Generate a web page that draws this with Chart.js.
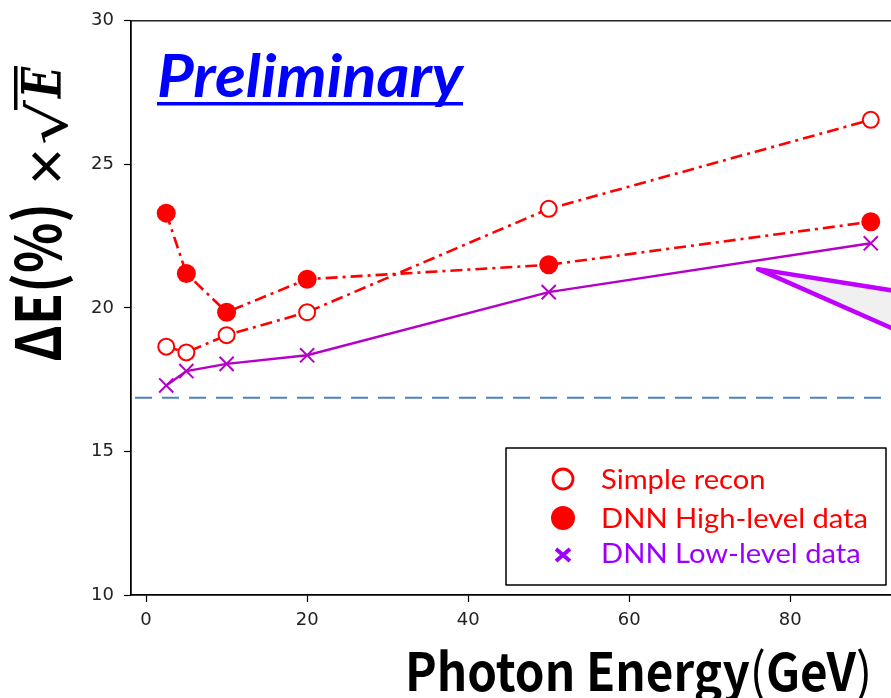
<!DOCTYPE html>
<html>
<head>
<meta charset="utf-8">
<script src="https://cdn.jsdelivr.net/npm/chart.js@4"></script>
<style>
html,body{margin:0;padding:0;background:#fff;overflow:hidden;width:891px;height:698px;}
#wrap{position:absolute;left:0;top:0;width:920px;height:698px;}
</style>
</head>
<body>
<div id="wrap"><canvas id="c" width="920" height="698"></canvas></div>
<script>
// ---- data ----
const energies = [2.5, 5, 10, 20, 50, 90];
const simpleRecon = [18.65, 18.45, 19.05, 19.85, 23.45, 26.55];
const dnnHigh = [23.3, 21.2, 19.85, 21.0, 21.5, 23.0];
const dnnLow = [17.3, 17.8, 18.05, 18.35, 20.55, 22.25];
const seriesLabels = ['Simple recon', 'DNN High-level data', 'DNN Low-level data'];
const baselineValue = 16.87;
const xLimits = [-1.875, 94.375];
const yLimits = [10, 30];
const xTickStep = 20;
const yTickStep = 5;
const calloutTip = {x: 76, y: 21.35};

const RED = '#ff0000';
const PURPLE = '#b400c8';
const LEG_PURPLE = '#9b00ff';

function pts(ys){ return energies.map((e,i)=>({x:e,y:ys[i]})); }

// draw text horizontally fitted to a given length
function fitText(ctx, text, font, x, y, len){
  ctx.font = font;
  const w = ctx.measureText(text).width;
  ctx.save();
  ctx.translate(x, y);
  ctx.scale(len / w, 1);
  ctx.fillText(text, 0, 0);
  ctx.restore();
}
// several runs of text with different fonts, fitted together
function fitRuns(ctx, runs, x, y, len){
  let total = 0;
  const ws = runs.map(r => { ctx.font = r[1]; const w = ctx.measureText(r[0]).width; total += w; return w; });
  ctx.save();
  ctx.translate(x, y);
  ctx.scale(len / total, 1);
  let cx = 0;
  runs.forEach((r, i) => { ctx.font = r[1]; ctx.fillText(r[0], cx, 0); cx += ws[i]; });
  ctx.restore();
}

const decor = {
  id: 'decor',
  beforeDatasetsDraw(chart){
    const ctx = chart.ctx, a = chart.chartArea;
    const ys = chart.scales.y;
    const yb = ys.getPixelForValue(baselineValue);
    ctx.save();
    ctx.strokeStyle = '#4f81bd';
    ctx.lineWidth = 2;
    ctx.setLineDash([17, 10]);
    ctx.beginPath();
    ctx.moveTo(a.left + 4, yb);
    ctx.lineTo(a.right, yb);
    ctx.stroke();
    ctx.restore();
  },
  afterDraw(chart){
    const ctx = chart.ctx, a = chart.chartArea;
    const xs = chart.scales.x, ys = chart.scales.y;
    ctx.save();
    // frame
    ctx.strokeStyle = '#000';
    ctx.lineWidth = 1.3;
    ctx.strokeRect(a.left, a.top, a.right - a.left, a.bottom - a.top);

    // callout
    const tx = xs.getPixelForValue(calloutTip.x), ty = ys.getPixelForValue(calloutTip.y);
    ctx.beginPath();
    ctx.moveTo(tx, ty);
    ctx.lineTo(tx + 170, ty + 27);
    ctx.lineTo(tx + 170, ty + 75);
    ctx.closePath();
    ctx.fillStyle = '#f0f0f0';
    ctx.fill();
    ctx.strokeStyle = '#bf00ff';
    ctx.lineWidth = 4.5;
    ctx.lineJoin = 'round';
    ctx.lineCap = 'round';
    ctx.beginPath();
    ctx.moveTo(tx + 170, ty + 27);
    ctx.lineTo(tx, ty);
    ctx.lineTo(tx + 170, ty + 75);
    ctx.stroke();

    // Preliminary
    ctx.fillStyle = '#0000ff';
    ctx.textBaseline = 'alphabetic';
    ctx.textAlign = 'left';
    fitText(ctx, 'Preliminary', 'italic bold 59px Lato', 157, 97, 306);
    ctx.fillRect(157, 102, 306, 3.5);

    // legend
    const lx = 506, ly = 448, lw = 380, lh = 137;
    ctx.fillStyle = '#fff';
    ctx.fillRect(lx, ly, lw, lh);
    ctx.strokeStyle = '#000';
    ctx.lineWidth = 1.5;
    ctx.lineCap = 'butt';
    ctx.strokeRect(lx, ly, lw, lh);
    const mx = 563;
    ctx.beginPath(); ctx.arc(mx, 479, 10, 0, Math.PI*2);
    ctx.strokeStyle = RED; ctx.lineWidth = 2.8; ctx.stroke();
    ctx.beginPath(); ctx.arc(mx, 518, 12, 0, Math.PI*2);
    ctx.fillStyle = RED; ctx.fill();
    ctx.strokeStyle = LEG_PURPLE; ctx.lineWidth = 4;
    ctx.beginPath();
    ctx.moveTo(mx-7, 549); ctx.lineTo(mx+7, 561);
    ctx.moveTo(mx+7, 549); ctx.lineTo(mx-7, 561);
    ctx.stroke();
    ctx.textBaseline = 'alphabetic';
    const lf = '26px Lato';
    const sx = 1.12;
    [[seriesLabels[0], 489, RED], [seriesLabels[1], 528, RED], [seriesLabels[2], 563, LEG_PURPLE]].forEach(r => {
      ctx.fillStyle = r[2];
      ctx.font = lf;
      ctx.save(); ctx.translate(601, r[1]); ctx.scale(sx, 1); ctx.fillText(r[0], 0, 0); ctx.restore();
    });

    // x title
    ctx.fillStyle = '#000';
    const xb = 'bold 52px "Noto Sans CJK JP"', xr = '52px "Noto Sans CJK JP"';
    fitRuns(ctx, [['Photon Energy', xb], ['(', xr], ['GeV', xb], [')', xr]], 405, 691, 467);

    // y title (rotated)
    ctx.save();
    ctx.translate(61, 362);
    ctx.rotate(-Math.PI/2);
    ctx.textAlign = 'left';
    ctx.textBaseline = 'alphabetic';
    fitText(ctx, 'ΔE(%)', 'bold 62px "Noto Sans CJK JP"', 0, 0, 159);
    ctx.font = '64px "Liberation Sans"';
    ctx.textAlign = 'center';
    ctx.fillText('×', 195.5, 7);
    ctx.textAlign = 'left';
    fitText(ctx, '√', '54px "DejaVu Serif"', 217, 6, 45);
    fitText(ctx, 'E', 'italic bold 54px "DejaVu Serif"', 264, 0, 31);
    ctx.fillRect(252, -47, 44, 3.5);
    ctx.restore();

    ctx.restore();
  }
};

new Chart(document.getElementById('c'), {
  type: 'line',
  data: {
    datasets: [
      {label: seriesLabels[0], data: pts(simpleRecon), borderColor: RED, backgroundColor: '#fff',
       borderWidth: 2.6, borderDash: [12, 5, 3, 5], pointStyle: 'circle', pointRadius: 8,
       pointBorderWidth: 2, pointBorderColor: RED, pointBackgroundColor: '#fff'},
      {label: seriesLabels[1], data: pts(dnnHigh), borderColor: RED, backgroundColor: RED,
       borderWidth: 2.6, borderDash: [12, 5, 3, 5], pointStyle: 'circle', pointRadius: 9.5,
       pointBorderWidth: 0, pointBackgroundColor: RED},
      {label: seriesLabels[2], data: pts(dnnLow), borderColor: PURPLE, backgroundColor: PURPLE,
       borderWidth: 2.4, pointStyle: 'crossRot', pointRadius: 10, pointBorderWidth: 2,
       pointBorderColor: PURPLE}
    ]
  },
  options: {
    responsive: false,
    animation: false,
    devicePixelRatio: 1,
    layout: {padding: {left: 0, top: 20, right: 14, bottom: 0}},
    plugins: {legend: {display: false}, tooltip: {enabled: false}},
    elements: {line: {tension: 0}},
    scales: {
      x: {
        type: 'linear', min: xLimits[0], max: xLimits[1],
        border: {display: true, color: '#000', width: 1.3},
        grid: {display: true, drawOnChartArea: false, drawTicks: true, tickLength: 7, color: '#000', tickWidth: 1.2},
        ticks: {stepSize: xTickStep, includeBounds: false, color: '#222', font: {family: 'DejaVu Sans', size: 18}, padding: 8, maxRotation: 0},
        afterFit(s){ s.height = 103; }
      },
      y: {
        type: 'linear', min: yLimits[0], max: yLimits[1],
        border: {display: true, color: '#000', width: 1.3},
        grid: {display: true, drawOnChartArea: false, drawTicks: true, tickLength: 7, color: '#000', tickWidth: 1.2},
        ticks: {stepSize: yTickStep, includeBounds: false, color: '#222', font: {family: 'DejaVu Sans', size: 18}, padding: 10},
        afterFit(s){ s.width = 131; }
      }
    }
  },
  plugins: [decor]
});
</script>
</body>
</html>
